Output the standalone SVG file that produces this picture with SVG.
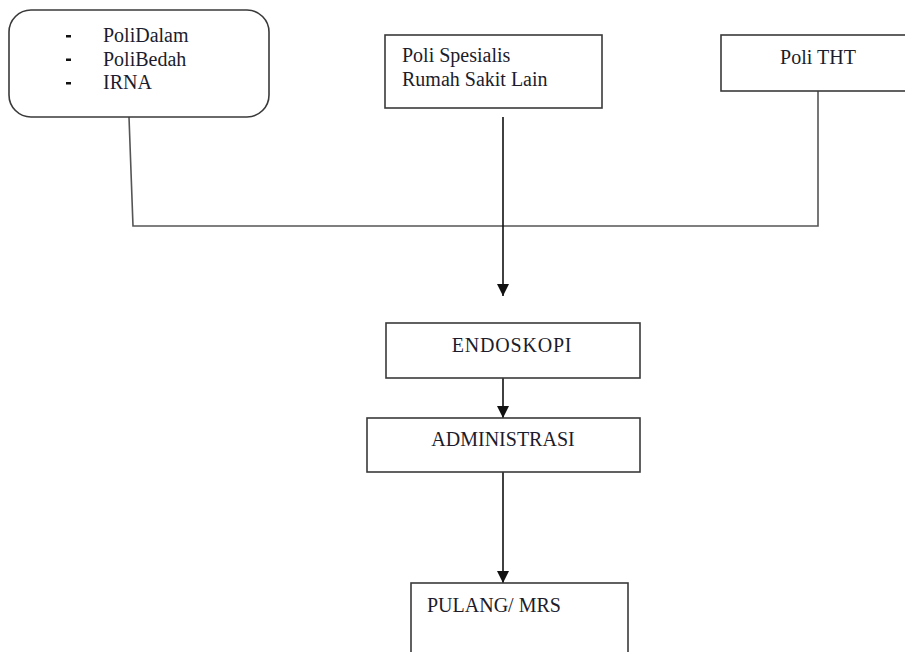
<svg xmlns="http://www.w3.org/2000/svg" width="905" height="652" viewBox="0 0 905 652">
<style>
.box{fill:#fff;stroke:#3a3a3a;stroke-width:1.6}
.t{font-size:20px;fill:#1c1c2c}
.c{text-anchor:middle}
.ln{fill:none;stroke:#555;stroke-width:1.6}
.ar{fill:none;stroke:#111;stroke-width:1.6;marker-end:url(#ah)}
</style>
<defs>
<marker id="ah" viewBox="0 0 12 12" refX="12" refY="6" markerWidth="12" markerHeight="12" markerUnits="userSpaceOnUse" orient="auto">
<path d="M0,0 L12,6 L0,12 z" fill="#111"/>
</marker>
</defs>
<rect width="905" height="652" fill="#fff"/>
<g id="connectors">
<polyline class="ln" points="129,117 133,226 818,226 818,91"/>
<line class="ar" x1="503" y1="117" x2="503" y2="296"/>
<line class="ar" x1="503" y1="378" x2="503" y2="418"/>
<line class="ar" x1="503" y1="472" x2="503" y2="583"/>
</g>
<g font-family="Liberation Serif, Times New Roman, serif">
<g id="n-poli-group">
<rect class="box" x="9" y="10" width="260" height="107" rx="22" ry="22"/>
<rect x="66" y="35" width="5" height="2.5" fill="#111"/>
<rect x="66" y="58.5" width="5" height="2.5" fill="#111"/>
<rect x="66" y="82" width="5" height="2.5" fill="#111"/>
<text class="t" x="103" y="42">PoliDalam</text>
<text class="t" x="103" y="65.5">PoliBedah</text>
<text class="t" x="103" y="89">IRNA</text>
</g>
<g id="n-spesialis">
<rect class="box" x="385" y="35" width="217" height="73"/>
<text class="t" x="402" y="62">Poli Spesialis</text>
<text class="t" x="402" y="86">Rumah Sakit Lain</text>
</g>
<g id="n-tht">
<rect class="box" x="721" y="35" width="200" height="56"/>
<text class="t c" x="818" y="64">Poli THT</text>
</g>
<g id="n-endoskopi">
<rect class="box" x="386" y="323" width="254" height="55"/>
<text class="t c" x="512" y="352" letter-spacing="0.8">ENDOSKOPI</text>
</g>
<g id="n-administrasi">
<rect class="box" x="367" y="418" width="273" height="54"/>
<text class="t c" x="503" y="446">ADMINISTRASI</text>
</g>
<g id="n-pulang">
<rect class="box" x="411" y="583" width="217" height="90"/>
<text class="t" x="427" y="612">PULANG/ MRS</text>
</g>
</g>
</svg>
